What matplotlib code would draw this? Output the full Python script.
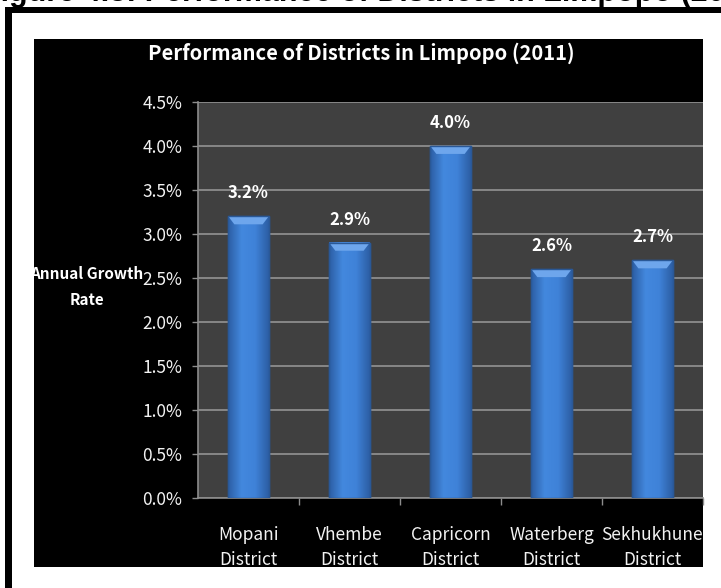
import numpy as np
import matplotlib.pyplot as plt
from matplotlib.patches import Rectangle, Polygon
from matplotlib.colors import LinearSegmentedColormap

districts = ["Mopani\nDistrict", "Vhembe\nDistrict", "Capricorn\nDistrict",
             "Waterberg\nDistrict", "Sekhukhune\nDistrict"]
growth = [3.2, 2.9, 4.0, 2.6, 2.7]
y_ticks = [0.0, 0.5, 1.0, 1.5, 2.0, 2.5, 3.0, 3.5, 4.0, 4.5]

# narrow latin glyphs for the chart text
plt.rcParams['font.family'] = ['Noto Sans CJK JP', 'DejaVu Sans']

W, H = 721, 588
fig = plt.figure(figsize=(W / 100, H / 100), dpi=100)


def px_rect(x, y, w, h, **kw):
    # rectangle given in pixels from the top-left corner
    r = Rectangle((x / W, 1 - (y + h) / H), w / W, h / H,
                  transform=fig.transFigure, **kw)
    fig.add_artist(r)
    return r


# caption line above the frame (mostly off the top edge)
fig.text(-18 / W, 1 - 1.5 / H, "Figure 4.3: Performance of Districts in Limpopo (2011)",
         family=['Liberation Sans', 'DejaVu Sans'], fontsize=22, fontweight='bold',
         color='black', va='baseline', ha='left')

# frame
px_rect(5, 7, W - 5, 6, color='black', lw=0, zorder=4)
px_rect(5, 7, 7, H - 7, color='black', lw=0, zorder=4)

# black chart background
px_rect(34, 39, 669, 528, color='black', lw=0, zorder=-1)

ax = fig.add_axes([198 / W, 90 / H, 505 / W, 396 / H])
ax.set_facecolor('#404040')

x = np.arange(len(districts))
bars = ax.bar(x, growth, width=0.4, color='#3b7dd3', edgecolor='#2a5896',
              linewidth=1, zorder=3)

# horizontal shading and a light bevel on top of each bar
cmap = LinearSegmentedColormap.from_list('barshade', ['#2c5ea4', '#4388de', '#3f82d8', '#2c5ea4'])
shade = np.linspace(0, 1, 64)[None, :]
for b in bars:
    x0, w, h = b.get_x(), b.get_width(), b.get_height()
    ax.imshow(shade, extent=[x0, x0 + w, 0, h], cmap=cmap, aspect='auto',
              zorder=3.2, clip_path=b, clip_on=True)
    ax.add_patch(Polygon([(x0, h), (x0 + w, h), (x0 + w - 0.06, h - 0.09), (x0 + 0.06, h - 0.09)],
                         closed=True, color='#6ea6ec', lw=0, zorder=3.4))
    ax.add_patch(Rectangle((x0, 0), w, h, fill=False, edgecolor='#2a5896', lw=1, zorder=3.5))

for xi, v in zip(x, growth):
    ax.annotate(f"{v:.1f}%", (xi, v), xytext=(0, 16.5), textcoords='offset points',
                ha='center', va='center', color='white', fontsize=12, fontweight='bold')

ax.set_xlim(-0.5, -0.5 + 505 / 103)
ax.set_ylim(0, 4.5)

ax.set_yticks(y_ticks)
ax.set_yticklabels([f"{t:.1f}%" for t in y_ticks])
ax.set_xticks(x)
ax.set_xticklabels(districts, linespacing=1.5)
ax.set_xticks(x + 0.5, minor=True)

ax.tick_params(axis='y', colors='#8c8c8c', labelcolor='#f2f2f2', labelsize=12.5,
               length=4.5, width=1, pad=7)
ax.tick_params(axis='x', which='major', length=0, labelcolor='#f2f2f2',
               labelsize=12.5, pad=20)
ax.tick_params(axis='x', which='minor', colors='#8c8c8c', length=5, width=1)

ax.grid(axis='y', color='#949494', linewidth=1.2, zorder=1)
ax.set_axisbelow(True)
for side in ['top', 'right']:
    ax.spines[side].set_visible(False)
for side in ['left', 'bottom']:
    ax.spines[side].set_color('#8c8c8c')
    ax.spines[side].set_linewidth(1.2)

fig.text(361 / W, 1 - 53 / H, "Performance of Districts in Limpopo (2011)",
         color='white', fontsize=14.5, fontweight='bold', ha='center', va='center')
fig.text(87 / W, 1 - 287 / H, "Annual Growth\nRate", color='white', fontsize=11,
         fontweight='bold', ha='center', va='center', multialignment='center',
         linespacing=1.8)

# chart image is cut off below the category labels
px_rect(12, 567, W - 12, H - 567, color='white', lw=0, zorder=5)

fig.savefig('out.png', dpi=100)
